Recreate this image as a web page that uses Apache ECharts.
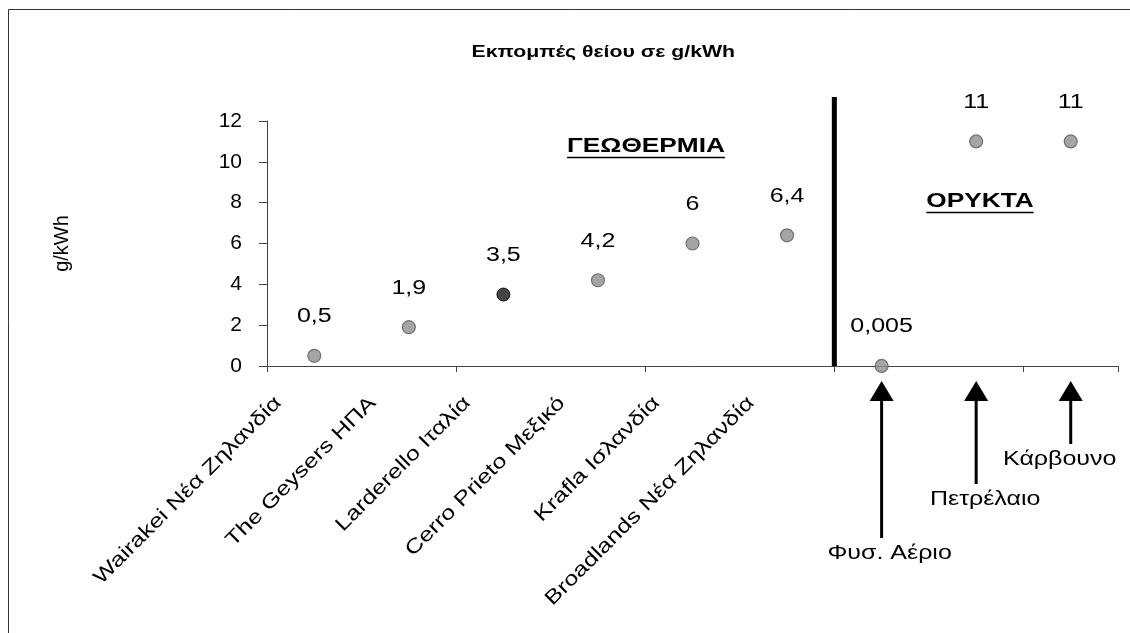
<!DOCTYPE html>
<html>
<head>
<meta charset="utf-8">
<script src="https://cdn.jsdelivr.net/npm/echarts@6/dist/echarts.min.js"></script>
<style>
  html, body { margin: 0; padding: 0; background: #ffffff; }
  #chart { width: 1130px; height: 633px; }
</style>
</head>
<body>
<div id="chart"></div>
<script>
// Sulphur emissions per kWh: geothermal fields first, then fossil fuels
const categories = [
  'Wairakei Νέα Ζηλανδία',
  'The Geysers ΗΠΑ',
  'Larderello Ιταλία',
  'Cerro Prieto Μεξικό',
  'Krafla Ισλανδία',
  'Broadlands Νέα Ζηλανδία',
  'Φυσ. Αέριο',
  'Πετρέλαιο',
  'Κάρβουνο'
];
const emissions = [0.5, 1.9, 3.5, 4.2, 6, 6.4, 0.005, 11, 11];
const geothermalCount = 6;          // first six categories are geothermal fields
const highlighted = 'Larderello Ιταλία';
const yMin = 0, yMax = 12, yStep = 2;
const titleText = 'Εκπομπές θείου σε g/kWh';
const yAxisTitle = 'g/kWh';
const groupNames = ['ΓΕΩΘΕΡΜΙΑ', 'ΟΡΥΚΤΑ'];

const FONT = "'Liberation Sans', Arial, sans-serif";
const WIDE = 1.25;                  // the typeface is set a little wide
const geoNames = categories.slice(0, geothermalCount);
const fossilNames = categories.slice(geothermalCount);
// how far below the axis each fossil-fuel arrow reaches, and its caption shift
const arrowDrop = [172, 118, 78];
const captionShift = [8, 9, -11];

const fmt = v => String(v).replace('.', ',');

function measure(text, font) {
  const ctx = document.createElement('canvas').getContext('2d');
  ctx.font = font;
  return ctx.measureText(text).width;
}

const groupFont = 'bold 21px ' + FONT;
const geoW = measure(groupNames[0], groupFont) * WIDE;
const fosW = measure(groupNames[1], groupFont) * WIDE;

const chart = echarts.init(document.getElementById('chart'), null, { renderer: 'canvas' });

const option = {
  animation: false,
  backgroundColor: '#ffffff',
  grid: { left: 267, right: 12, top: 121, bottom: 267, containLabel: false },
  xAxis: {
    type: 'category',
    data: categories,
    boundaryGap: true,
    axisLine: { lineStyle: { color: '#444', width: 1 } },
    axisTick: { show: true, length: 6, lineStyle: { color: '#444' } },
    axisLabel: { show: false },
    splitLine: { show: false }
  },
  yAxis: {
    type: 'value',
    min: yMin,
    max: yMax,
    interval: yStep,
    name: yAxisTitle,
    nameLocation: 'middle',
    nameGap: 195,
    nameTextStyle: { fontFamily: FONT, fontSize: 20, color: '#000' },
    axisLine: { show: true, lineStyle: { color: '#444', width: 1 } },
    axisTick: { show: true, length: 8, lineStyle: { color: '#444' } },
    axisLabel: { margin: 25, fontFamily: FONT, fontSize: 21, color: '#000' },
    splitLine: { show: false }
  },
  series: [
    {
      type: 'scatter',
      symbol: 'circle',
      symbolSize: 13,
      data: categories.map((c, i) => ({
        value: [c, emissions[i]],
        itemStyle: c === highlighted
          ? { color: '#151515', borderColor: '#000', borderWidth: 1 }
          : { color: '#8e8e8e', borderColor: '#5a5a5a', borderWidth: 1.2 }
      })),
      z: 5
    },
    {
      // value labels above each point
      type: 'custom',
      coordinateSystem: 'cartesian2d',
      clip: false,
      silent: true,
      data: categories.map((c, i) => [c, emissions[i]]),
      renderItem(params, api) {
        const p = api.coord([api.value(0), api.value(1)]);
        return {
          type: 'text',
          x: p[0], y: p[1] - 39,
          scaleX: WIDE,
          style: {
            text: fmt(emissions[params.dataIndex]),
            font: '20px ' + FONT, fill: '#000',
            align: 'center', verticalAlign: 'middle'
          }
        };
      },
      z: 5
    },
    {
      // slanted names of the geothermal fields under the axis
      type: 'custom',
      coordinateSystem: 'cartesian2d',
      clip: false,
      silent: true,
      data: geoNames.map(n => [n, yMin]),
      renderItem(params, api) {
        const p = api.coord([api.value(0), yMin]);
        return {
          type: 'text',
          x: p[0] - 36, y: p[1] + 34,
          rotation: Math.PI / 4,
          scaleX: WIDE,
          style: {
            text: geoNames[params.dataIndex],
            font: '20px ' + FONT, fill: '#000',
            align: 'right', verticalAlign: 'middle'
          }
        };
      },
      z: 4
    },
    {
      // thick divider between geothermal and fossil groups
      type: 'custom',
      coordinateSystem: 'cartesian2d',
      clip: false,
      silent: true,
      data: [[categories[geothermalCount - 1], yMin]],
      renderItem(params, api) {
        const base = api.coord([api.value(0), yMin]);
        const top = api.coord([api.value(0), yMax]);
        const x = base[0] + api.size([1, 0])[0] / 2;
        return {
          type: 'line',
          shape: { x1: x, y1: top[1] - 24, x2: x, y2: base[1] },
          style: { stroke: '#000', lineWidth: 5 }
        };
      },
      z: 4
    },
    {
      // arrows pointing up at the fossil-fuel categories, with captions
      type: 'custom',
      coordinateSystem: 'cartesian2d',
      clip: false,
      silent: true,
      data: fossilNames.map(n => [n, yMin]),
      renderItem(params, api) {
        const p = api.coord([api.value(0), yMin]);
        const x = p[0], y0 = p[1];
        const tip = y0 + 15, head = tip + 20, end = y0 + arrowDrop[params.dataIndex];
        return {
          type: 'group',
          children: [
            {
              type: 'polygon',
              shape: { points: [[x, tip], [x - 12, head], [x + 12, head]] },
              style: { fill: '#000' }
            },
            {
              type: 'line',
              shape: { x1: x, y1: head - 1, x2: x, y2: end },
              style: { stroke: '#000', lineWidth: 3 }
            },
            {
              type: 'text',
              x: x + captionShift[params.dataIndex],
              y: end + 5,
              scaleX: WIDE,
              style: {
                text: fossilNames[params.dataIndex],
                font: '20px ' + FONT,
                fill: '#000',
                align: 'center',
                verticalAlign: 'top'
              }
            }
          ]
        };
      },
      z: 4
    }
  ],
  graphic: [
    {
      type: 'rect',
      shape: { x: 8.5, y: 9.5, width: 1300, height: 800 },
      style: { fill: null, stroke: '#333', lineWidth: 1 },
      silent: true,
      z: -1
    },
    {
      type: 'text',
      x: 735, y: 52,
      scaleX: WIDE,
      style: { text: titleText, font: 'bold 17px ' + FONT, fill: '#000', align: 'right', verticalAlign: 'middle' }
    },
    {
      type: 'text',
      x: 646, y: 146,
      scaleX: WIDE,
      style: { text: groupNames[0], font: groupFont, fill: '#000', align: 'center', verticalAlign: 'middle' }
    },
    {
      type: 'line',
      shape: { x1: 646 - geoW / 2, y1: 157.5, x2: 646 + geoW / 2, y2: 157.5 },
      style: { stroke: '#000', lineWidth: 1.5 }
    },
    {
      type: 'text',
      x: 980, y: 201,
      scaleX: WIDE,
      style: { text: groupNames[1], font: groupFont, fill: '#000', align: 'center', verticalAlign: 'middle' }
    },
    {
      type: 'line',
      shape: { x1: 980 - fosW / 2, y1: 212.5, x2: 980 + fosW / 2, y2: 212.5 },
      style: { stroke: '#000', lineWidth: 1.5 }
    }
  ]
};

chart.setOption(option);
</script>
</body>
</html>
